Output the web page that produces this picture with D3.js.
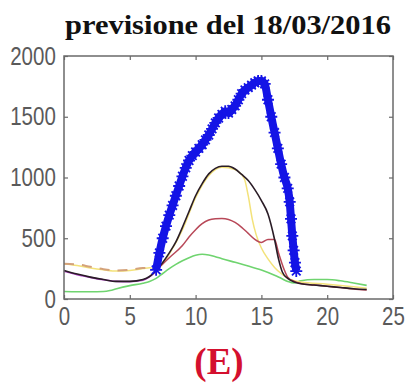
<!DOCTYPE html>
<html>
<head>
<meta charset="utf-8">
<script src="https://cdn.jsdelivr.net/npm/d3@7"></script>
<style>
  body { margin: 0; background: #fff; }
  svg { display: block; }
</style>
</head>
<body>
<div id="viz"></div>
<script>
// previsione del 18/03/2016 - panel (E)
const title = "previsione del 18/03/2016";
const panelLabel = "(E)";

const xTicks = [0, 5, 10, 15, 20, 25];
const yTicks = [0, 500, 1000, 1500, 2000];

// measured (blue stars)
const blueHours = [7.0, 7.25, 7.5, 7.75, 8.0, 8.25, 8.5, 8.75, 9.0, 9.25, 9.5, 9.75, 10.0, 10.25, 10.5, 10.75,
  11.0, 11.25, 11.5, 11.75, 12.0, 12.25, 12.5, 12.75, 13.0, 13.25, 13.5, 13.75, 14.0, 14.25, 14.5, 14.75,
  15.0, 15.25, 15.5, 15.75, 16.0, 16.25, 16.5, 16.75, 17.0, 17.15, 17.25, 17.35, 17.45, 17.55, 17.65];
const blueValues = [240, 380, 500, 600, 690, 770, 850, 930, 1010, 1080, 1140, 1180, 1210, 1240, 1270, 1310,
  1350, 1400, 1450, 1490, 1520, 1545, 1530, 1560, 1590, 1640, 1690, 1720, 1740, 1760, 1780, 1795,
  1795, 1770, 1640, 1500, 1370, 1240, 1110, 1000, 910, 800, 660, 520, 400, 300, 230];

// forecasts
const blackHours = [0, 1, 2, 3, 4, 5, 6, 6.5, 7, 7.5, 8, 8.5, 9, 9.5, 10, 10.5, 11, 11.5, 12, 12.5, 13, 13.5,
  14, 14.5, 15, 15.5, 16, 16.3, 16.6, 17, 17.5, 18, 19, 20, 21, 22, 23];
const blackValues = [235, 205, 180, 160, 145, 145, 160, 185, 235, 300, 380, 470, 590, 720, 850, 950, 1030, 1075,
  1092, 1092, 1070, 1025, 975, 900, 810, 700, 490, 330, 220, 170, 140, 125, 115, 105, 95, 85, 78];

const yellowHours = [0, 1, 2, 3, 4, 5, 6, 6.5, 7, 7.5, 8, 9, 10, 11, 12, 13, 13.7, 14, 14.3, 14.6, 15, 15.5,
  16, 16.5, 17, 17.5, 18, 20, 22, 23];
const yellowValues = [290, 275, 255, 240, 230, 235, 250, 258, 250, 290, 370, 570, 835, 1015, 1085, 1065, 990, 850,
  660, 530, 420, 330, 260, 210, 170, 150, 140, 122, 100, 88];

const dashHours = [0, 1, 2, 3, 4, 5, 6, 7];
const dashValues = [290, 285, 265, 245, 235, 240, 255, 250];

const redHours = [7, 8, 9, 9.5, 10, 10.5, 11, 11.5, 12, 12.5, 13, 13.5, 14, 14.5, 15, 15.5, 16, 16.3, 16.7,
  17, 17.5, 18, 19, 20, 21, 22, 23];
const redValues = [235, 340, 440, 510, 570, 620, 650, 660, 662, 655, 630, 590, 540, 490, 465, 490, 490, 380, 250,
  180, 145, 128, 115, 105, 95, 82, 75];

const magentaHours = [0, 1, 2, 3, 4, 5, 6, 7];
const magentaValues = [228, 200, 178, 158, 145, 143, 155, 228];

const greenHours = [0, 1, 2, 3, 3.5, 4, 5, 6, 6.5, 7, 7.5, 8, 8.5, 9, 9.5, 10, 10.5, 11, 11.5, 12, 13, 14, 15,
  16, 16.5, 17, 17.5, 18, 19, 20, 21, 22, 23];
const greenValues = [62, 60, 60, 62, 70, 85, 110, 130, 145, 170, 210, 250, 285, 315, 340, 360, 368, 362, 348, 332,
  302, 272, 238, 195, 170, 145, 132, 150, 160, 160, 150, 132, 112];

const W = 409, H = 383;
const margin = { top: 56, right: 16, bottom: 84, left: 64 };
const iw = W - margin.left - margin.right;
const ih = H - margin.top - margin.bottom;

const svg = d3.select("#viz").append("svg").attr("width", W).attr("height", H);

const x = d3.scaleLinear().domain([0, 25]).range([margin.left, margin.left + iw]);
const y = d3.scaleLinear().domain([0, 2000]).range([margin.top + ih, margin.top]);

const zip = (hs, vs) => hs.map((h, i) => [h, vs[i]]);
const line = d3.line().x(d => x(d[0])).y(d => y(d[1])).curve(d3.curveMonotoneX);

const plot = svg.append("g");

function drawLine(hs, vs, color, width, dash) {
  plot.append("path")
    .datum(zip(hs, vs))
    .attr("d", line)
    .attr("fill", "none")
    .attr("stroke", color)
    .attr("stroke-width", width)
    .attr("stroke-linejoin", "round")
    .attr("stroke-dasharray", dash || null);
}

drawLine(greenHours, greenValues, "#6fd46f", 1.6);
drawLine(magentaHours, magentaValues, "#b040c8", 1.6);
drawLine(yellowHours, yellowValues, "#f3e27a", 1.5);
drawLine(dashHours, dashValues, "#d4a27a", 2, "10,8");
drawLine(redHours, redValues, "#b84858", 1.5);
drawLine(blackHours, blackValues, "#2a1c26", 1.6);

// blue measured line with asterisk markers (dense -> thick band)
drawLine(blueHours, blueValues, "#1414e6", 8);
const star = "M-6,0H6M0,-6V6M-4.3,-4.3L4.3,4.3M-4.3,4.3L4.3,-4.3";
plot.selectAll(".star")
  .data(zip(blueHours, blueValues))
  .join("path")
  .attr("class", "star")
  .attr("transform", d => `translate(${x(d[0])},${y(d[1])})`)
  .attr("d", star)
  .attr("fill", "none")
  .attr("stroke", "#1414e6")
  .attr("stroke-width", 1.8);

// axes box (matlab style, ticks inside on all sides)
const axisColor = "#6a6a6a";
const tickFont = "'Liberation Sans', Arial, sans-serif";
const fmt = d3.format("d");

svg.append("g")
  .attr("transform", `translate(0,${margin.top + ih})`)
  .call(d3.axisBottom(x).tickValues(xTicks).tickSize(-4).tickPadding(8).tickFormat(fmt))
  .call(g => g.select(".domain").remove());
svg.append("g")
  .attr("transform", `translate(0,${margin.top})`)
  .call(d3.axisTop(x).tickValues(xTicks).tickSize(-4).tickFormat(""))
  .call(g => g.select(".domain").remove());
svg.append("g")
  .attr("class", "yaxis")
  .attr("transform", `translate(${margin.left},0)`)
  .call(d3.axisLeft(y).tickValues(yTicks).tickSize(-4).tickPadding(8).tickFormat(fmt))
  .call(g => g.select(".domain").remove());
svg.append("g")
  .attr("transform", `translate(${margin.left + iw},0)`)
  .call(d3.axisRight(y).tickValues(yTicks).tickSize(-4).tickFormat(""))
  .call(g => g.select(".domain").remove());

svg.selectAll(".tick line").attr("stroke", axisColor).attr("stroke-width", 1.2);
svg.selectAll(".tick text")
  .attr("fill", "#5a5a5a")
  .style("font-family", tickFont)
  .style("font-size", "25px")
  .attr("transform", "scale(0.82,1)");
svg.selectAll(".yaxis .tick text").attr("x", -10);

svg.append("rect")
  .attr("x", margin.left).attr("y", margin.top)
  .attr("width", iw).attr("height", ih)
  .attr("fill", "none")
  .attr("stroke", axisColor)
  .attr("stroke-width", 1.5);

svg.append("text")
  .attr("x", 228).attr("y", 34)
  .attr("text-anchor", "middle")
  .attr("textLength", 326)
  .attr("lengthAdjust", "spacingAndGlyphs")
  .style("font-family", "'Liberation Serif', 'DejaVu Serif', serif")
  .style("font-weight", "bold")
  .style("font-size", "28px")
  .attr("fill", "#111")
  .text(title);

svg.append("text")
  .attr("x", 219).attr("y", 374)
  .attr("text-anchor", "middle")
  .style("font-family", "'Liberation Serif', 'DejaVu Serif', serif")
  .style("font-weight", "bold")
  .style("font-size", "37px")
  .attr("fill", "#d4102e")
  .text(panelLabel);
</script>
</body>
</html>
